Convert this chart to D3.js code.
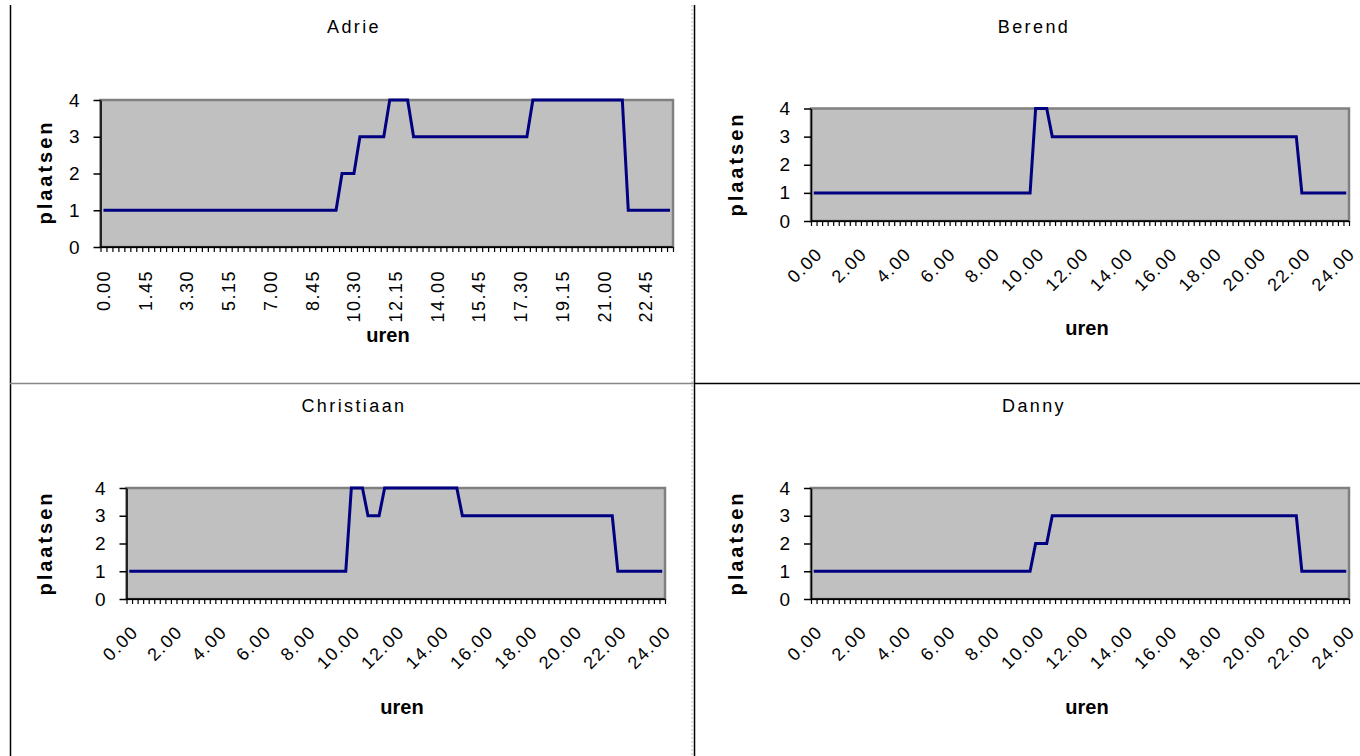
<!DOCTYPE html>
<html>
<head>
<meta charset="utf-8">
<script src="https://cdn.jsdelivr.net/npm/d3@7"></script>
<style>
  html, body { margin: 0; padding: 0; background: #fff; }
  svg { display: block; font-family: "Liberation Sans", Arial, sans-serif; }
</style>
</head>
<body>
<script>
(function() {
  'use strict';

  // bezetting per kwartier (plaatsen), 0.00 .. 23.45 (Adrie) / 0.00 .. 24.00 (rest)
  const adrie = [
    1, 1, 1, 1, 1, 1, 1, 1, 1, 1, 1, 1, 1, 1, 1, 1, 1, 1, 1, 1, 1, 1, 1, 1,
    1, 1, 1, 1, 1, 1, 1, 1, 1, 1, 1, 1, 1, 1, 1, 1, 2, 2, 2, 3, 3, 3, 3, 3,
    4, 4, 4, 4, 3, 3, 3, 3, 3, 3, 3, 3, 3, 3, 3, 3, 3, 3, 3, 3, 3, 3, 3, 3,
    4, 4, 4, 4, 4, 4, 4, 4, 4, 4, 4, 4, 4, 4, 4, 4, 1, 1, 1, 1, 1, 1, 1, 1
  ];
  const berend = [
    1, 1, 1, 1, 1, 1, 1, 1, 1, 1, 1, 1, 1, 1, 1, 1, 1, 1, 1, 1, 1, 1, 1, 1,
    1, 1, 1, 1, 1, 1, 1, 1, 1, 1, 1, 1, 1, 1, 1, 1, 4, 4, 4, 3, 3, 3, 3, 3,
    3, 3, 3, 3, 3, 3, 3, 3, 3, 3, 3, 3, 3, 3, 3, 3, 3, 3, 3, 3, 3, 3, 3, 3,
    3, 3, 3, 3, 3, 3, 3, 3, 3, 3, 3, 3, 3, 3, 3, 3, 1, 1, 1, 1, 1, 1, 1, 1,
    1
  ];
  const christiaan = [
    1, 1, 1, 1, 1, 1, 1, 1, 1, 1, 1, 1, 1, 1, 1, 1, 1, 1, 1, 1, 1, 1, 1, 1,
    1, 1, 1, 1, 1, 1, 1, 1, 1, 1, 1, 1, 1, 1, 1, 1, 4, 4, 4, 3, 3, 3, 4, 4,
    4, 4, 4, 4, 4, 4, 4, 4, 4, 4, 4, 4, 3, 3, 3, 3, 3, 3, 3, 3, 3, 3, 3, 3,
    3, 3, 3, 3, 3, 3, 3, 3, 3, 3, 3, 3, 3, 3, 3, 3, 1, 1, 1, 1, 1, 1, 1, 1,
    1
  ];
  const danny = [
    1, 1, 1, 1, 1, 1, 1, 1, 1, 1, 1, 1, 1, 1, 1, 1, 1, 1, 1, 1, 1, 1, 1, 1,
    1, 1, 1, 1, 1, 1, 1, 1, 1, 1, 1, 1, 1, 1, 1, 1, 2, 2, 2, 3, 3, 3, 3, 3,
    3, 3, 3, 3, 3, 3, 3, 3, 3, 3, 3, 3, 3, 3, 3, 3, 3, 3, 3, 3, 3, 3, 3, 3,
    3, 3, 3, 3, 3, 3, 3, 3, 3, 3, 3, 3, 3, 3, 3, 3, 1, 1, 1, 1, 1, 1, 1, 1,
    1
  ];

  // tick labels on the category axes
  const adrieTicks = ['0.00', '1.45', '3.30', '5.15', '7.00', '8.45', '10.30',
    '12.15', '14.00', '15.45', '17.30', '19.15', '21.00', '22.45'];
  const dayTicks = ['0.00', '2.00', '4.00', '6.00', '8.00', '10.00', '12.00',
    '14.00', '16.00', '18.00', '20.00', '22.00', '24.00'];
  const yTicks = [0, 1, 2, 3, 4];

  // category names: quarter hours as "h.mm"
  const quarter = (i) => Math.floor(i / 4) + '.' + ['00', '15', '30', '45'][i % 4];

  const w = 1360;
  const h = 756;

  const svg = d3.select('body').append('svg')
    .attr('width', w)
    .attr('height', h);

  // table frame lines
  svg.append('line').attr('x1', 10.5).attr('x2', 10.5).attr('y1', 5).attr('y2', h)
    .attr('stroke', '#000').attr('stroke-width', 1.5);
  svg.append('line').attr('x1', 694.5).attr('x2', 694.5).attr('y1', 5).attr('y2', h)
    .attr('stroke', '#000').attr('stroke-width', 1.5);
  svg.append('line').attr('x1', 692).attr('x2', 692).attr('y1', 5).attr('y2', h)
    .attr('stroke', '#bbb').attr('stroke-width', 1).attr('stroke-dasharray', '2,2');
  svg.append('line').attr('x1', 10).attr('x2', 694).attr('y1', 383.5).attr('y2', 383.5)
    .attr('stroke', '#888').attr('stroke-width', 1.5);
  svg.append('line').attr('x1', 694).attr('x2', w).attr('y1', 383.5).attr('y2', 383.5)
    .attr('stroke', '#000').attr('stroke-width', 1.5);

  const panels = [
    { title: 'Adrie', values: adrie, ticks: adrieTicks, vertical: true,
      left: 100.5, right: 673, top: 100, bottom: 247,
      titlePos: [354, 28], yLabPos: [47, 172], xLabPos: [388, 337] },
    { title: 'Berend', values: berend, ticks: dayTicks, vertical: false,
      left: 811, right: 1349, top: 108.5, bottom: 221,
      titlePos: [1034, 28], yLabPos: [738, 164], xLabPos: [1087, 330] },
    { title: 'Christiaan', values: christiaan, ticks: dayTicks, vertical: false,
      left: 126.5, right: 665, top: 488, bottom: 599,
      titlePos: [354, 407], yLabPos: [47, 543], xLabPos: [402, 709] },
    { title: 'Danny', values: danny, ticks: dayTicks, vertical: false,
      left: 811, right: 1349, top: 488, bottom: 599,
      titlePos: [1034, 407], yLabPos: [738, 543], xLabPos: [1087, 709] }
  ];

  panels.forEach((p) => {
    const n = p.values.length;
    const cats = d3.range(n).map(quarter);
    const g = svg.append('g');

    const x = d3.scaleBand().domain(cats).range([p.left, p.right]).paddingInner(0);
    const xEdge = d3.scaleLinear().domain([0, n]).range([p.left, p.right]);
    const y = d3.scaleLinear().domain([0, 4]).range([p.bottom, p.top]);
    const cx = (c) => x(c) + x.bandwidth() / 2;

    // plot area
    g.append('rect')
      .attr('x', p.left).attr('y', p.top)
      .attr('width', p.right - p.left).attr('height', p.bottom - p.top)
      .attr('fill', '#c0c0c0')
      .attr('stroke', '#808080')
      .attr('stroke-width', 2.5);

    // the line
    const line = d3.line()
      .x((d, i) => cx(cats[i]))
      .y((d) => y(d));
    g.append('path')
      .datum(p.values)
      .attr('d', line)
      .attr('fill', 'none')
      .attr('stroke', '#000080')
      .attr('stroke-width', 3)
      .attr('stroke-linejoin', 'miter');

    // category tick marks between the categories
    const xTickAxis = d3.axisBottom(xEdge)
      .tickValues(d3.range(n + 1))
      .tickFormat('')
      .tickSize(5)
      .tickSizeOuter(0);
    const gx = g.append('g')
      .attr('transform', 'translate(0,' + p.bottom + ')')
      .call(xTickAxis);
    gx.selectAll('path, line').attr('stroke', '#000').attr('stroke-width', 1.2);

    // category labels
    const xLabelAxis = d3.axisBottom(x)
      .tickValues(p.ticks)
      .tickSize(0);
    const gl = g.append('g')
      .attr('transform', 'translate(0,' + p.bottom + ')')
      .call(xLabelAxis);
    gl.select('.domain').remove();
    const labels = gl.selectAll('text')
      .attr('font-family', '"Liberation Sans", Arial, sans-serif')
      .attr('font-size', 18)
      .attr('letter-spacing', 1.5)
      .attr('fill', '#000')
      .style('text-anchor', 'end')
      .attr('y', 0)
      .attr('dy', '0.35em');
    if (p.vertical) {
      labels.attr('transform', 'translate(0,23) rotate(-90)').attr('x', 0);
    } else {
      labels.attr('dy', '0')
        .attr('transform', 'translate(10,34) rotate(-45)').attr('x', 0);
    }

    // value axis
    const yAxis = d3.axisLeft(y)
      .tickValues(yTicks)
      .tickFormat(d3.format('d'))
      .tickSize(7)
      .tickSizeOuter(0)
      .tickPadding(14);
    const gy = g.append('g')
      .attr('transform', 'translate(' + p.left + ',0)')
      .call(yAxis);
    gy.selectAll('path, line').attr('stroke', '#000').attr('stroke-width', 1.5);
    gy.selectAll('text')
      .attr('font-family', '"Liberation Sans", Arial, sans-serif')
      .attr('font-size', 19)
      .attr('fill', '#000');

    // x-axis line on top of the plot border
    g.append('line')
      .attr('x1', p.left).attr('x2', p.right)
      .attr('y1', p.bottom).attr('y2', p.bottom)
      .attr('stroke', '#000').attr('stroke-width', 1.5);

    // titles
    g.append('text')
      .attr('x', p.titlePos[0]).attr('y', p.titlePos[1])
      .attr('text-anchor', 'middle')
      .attr('dominant-baseline', 'middle')
      .attr('font-size', 18)
      .attr('letter-spacing', 2.4)
      .text(p.title);

    g.append('text')
      .attr('transform', 'translate(' + p.yLabPos[0] + ',' + p.yLabPos[1] + ') rotate(-90)')
      .attr('text-anchor', 'middle')
      .attr('dominant-baseline', 'middle')
      .attr('font-size', 20)
      .attr('font-weight', 'bold')
      .attr('letter-spacing', 3)
      .text('plaatsen');

    g.append('text')
      .attr('x', p.xLabPos[0]).attr('y', p.xLabPos[1])
      .attr('text-anchor', 'middle')
      .attr('dominant-baseline', 'middle')
      .attr('font-size', 20)
      .attr('font-weight', 'bold')
      .text('uren');
  });
}());
</script>
</body>
</html>
